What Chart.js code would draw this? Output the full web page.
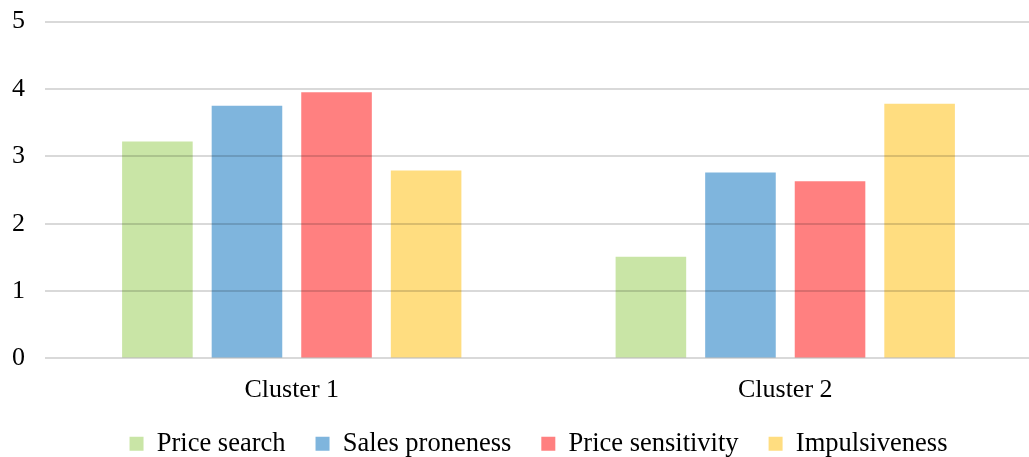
<!DOCTYPE html>
<html>
<head>
<meta charset="utf-8">
<script src="https://cdn.jsdelivr.net/npm/chart.js@4.4.1/dist/chart.umd.min.js"></script>
<style>
    html, body { margin: 0; padding: 0; background: #fff; overflow: hidden; }
    body { position: relative; width: 1029px; height: 457px; }
    #wrap { position: absolute; left: -8px; top: -14px; width: 1040px; height: 503px; }
</style>
</head>
<body>
<div id="wrap"><canvas id="clusterChart"></canvas></div>
<script>
// Mean scores per cluster
const clusters = ['Cluster 1', 'Cluster 2'];
const priceSearch = [3.22, 1.51];
const salesProneness = [3.75, 2.76];
const priceSensitivity = [3.95, 2.63];
const impulsiveness = [2.79, 3.78];
const yTicks = [0, 1, 2, 3, 4, 5];

const serif = "'Liberation Serif', 'Times New Roman', serif";

// pull the legend row up closer to the category labels
const legendLift = {
    id: 'legendLift',
    afterLayout(chart) {
        chart.legend.top -= 22;
        chart.legend.bottom -= 22;
    }
};

document.addEventListener('DOMContentLoaded', () => {
    Chart.defaults.color = '#000';
    Chart.defaults.font.family = serif;

    const ctx = document.getElementById('clusterChart').getContext('2d');

    const bar = (label, data, color) => ({
        label, data,
        backgroundColor: color,
        borderWidth: 0,
        categoryPercentage: 0.726,
        barPercentage: 0.788
    });

    new Chart(ctx, {
        type: 'bar',
        data: {
            labels: clusters,
            datasets: [
                bar('Price search', priceSearch, '#c9e5a6'),
                bar('Sales proneness', salesProneness, '#7fb5dd'),
                bar('Price sensitivity', priceSensitivity, '#ff8080'),
                bar('Impulsiveness', impulsiveness, '#ffdd80')
            ]
        },
        plugins: [legendLift],
        options: {
            responsive: true,
            maintainAspectRatio: false,
            animation: false,
            layout: { padding: 0 },
            plugins: {
                tooltip: { enabled: false },
                legend: {
                    position: 'bottom',
                    fullSize: false,
                    labels: {
                        boxWidth: 14,
                        boxHeight: 14,
                        padding: 30,
                        font: { size: 26.5 }
                    }
                }
            },
            scales: {
                x: {
                    grid: { display: false, drawTicks: false },
                    border: { display: false },
                    ticks: { font: { size: 26, lineHeight: 0.77 }, padding: 22 }
                },
                y: {
                    min: yTicks[0],
                    max: yTicks[yTicks.length - 1],
                    afterBuildTicks: axis => { axis.ticks = yTicks.map(v => ({ value: v })); },
                    grid: { color: 'rgba(0,0,0,0.15)', lineWidth: 2, drawTicks: false, z: 1 },
                    border: { display: false },
                    ticks: { font: { size: 26 }, padding: 20 }
                }
            }
        }
    });
});
</script>
</body>
</html>
